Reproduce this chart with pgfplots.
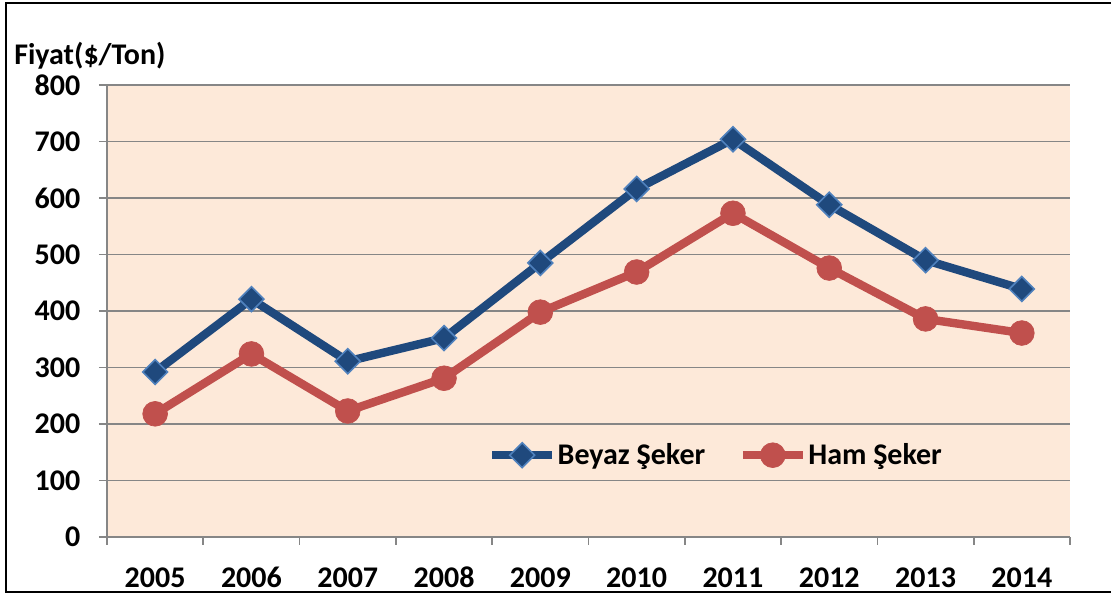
\documentclass[border=0pt]{standalone}
\usepackage{pgfplots}
\pgfplotsset{compat=1.18}
\usepackage{fontspec}
\setmainfont{Carlito}
\definecolor{bgc}{HTML}{FDE9D9}
\definecolor{gridc}{HTML}{868686}
\definecolor{blueln}{HTML}{1F497D}
\definecolor{bluebd}{HTML}{4F81BD}
\definecolor{redln}{HTML}{C0504D}
\newcommand\lblfont{\fontsize{22.5}{26}\selectfont\bfseries}
\begin{document}
\begin{tikzpicture}
\useasboundingbox (0,0) rectangle (833.25pt,446.25pt);
\draw[black, line width=1.2pt] (4.5pt,2.25pt) rectangle (840pt,444pt);
\begin{axis}[
  at={(80.25pt,43.5pt)}, anchor=south west,
  scale only axis, width=722.25pt, height=339pt,
  xmin=-0.5, xmax=9.5, ymin=0, ymax=800,
  axis x line*=bottom, axis y line*=left,
  axis line style={gridc, line width=1.2pt},
  axis background/.style={fill=bgc},
  xtick={0,...,9},
  xticklabels={2005,2006,2007,2008,2009,2010,2011,2012,2013,2014},
  minor xtick={-0.5,0.5,...,9.5},
  ytick={0,100,...,800},
  ymajorgrids, major grid style={gridc, line width=1.2pt},
  tick align=outside,
  major tick length=6pt, minor tick length=6pt,
  x tick style={draw=none},
  minor x tick style={draw=gridc, line width=1.2pt},
  y tick style={gridc, line width=1.2pt},
  tick label style={font=\lblfont},
  /pgf/number format/assume math mode=true,
  xticklabel style={anchor=north, text height=11pt, text depth=0pt, inner sep=0pt, yshift=-21pt},
  yticklabel style={xshift=-10.5pt},
  legend style={at={(0.632,0.181)}, anchor=center, draw=none, fill=none,
    font=\lblfont,
    /tikz/every even column/.append style={column sep=24pt},
    nodes={inner sep=1pt},
    inner sep=0pt},
  legend columns=2,
  legend image code/.code={\draw[mark repeat=2,mark phase=2,#1] plot coordinates {(0pt,0pt)(22.5pt,0pt)(45pt,0pt)};},
  clip=false,
]
\addplot[blueln, line width=6.3pt, mark=square*, mark size=6.6pt,
  mark options={rotate=45, fill=blueln, draw=bluebd, line width=1.2pt}]
  coordinates {(0,292)(1,421)(2,311)(3,352)(4,485)(5,616)(6,704)(7,588)(8,490)(9,439)};
\addlegendentry{Beyaz Şeker}
\addplot[redln, line width=6.3pt, mark=*, mark size=9.3pt,
  mark options={fill=redln, draw=redln, line width=0.5pt}]
  coordinates {(0,218)(1,324)(2,223)(3,281)(4,398)(5,469)(6,573)(7,476)(8,386)(9,361)};
\addlegendentry{Ham Şeker}
\end{axis}
\node[anchor=base west, font=\lblfont, inner sep=0pt] at (10.5pt,398pt) {Fiyat(\$/Ton)};
\end{tikzpicture}
\end{document}
